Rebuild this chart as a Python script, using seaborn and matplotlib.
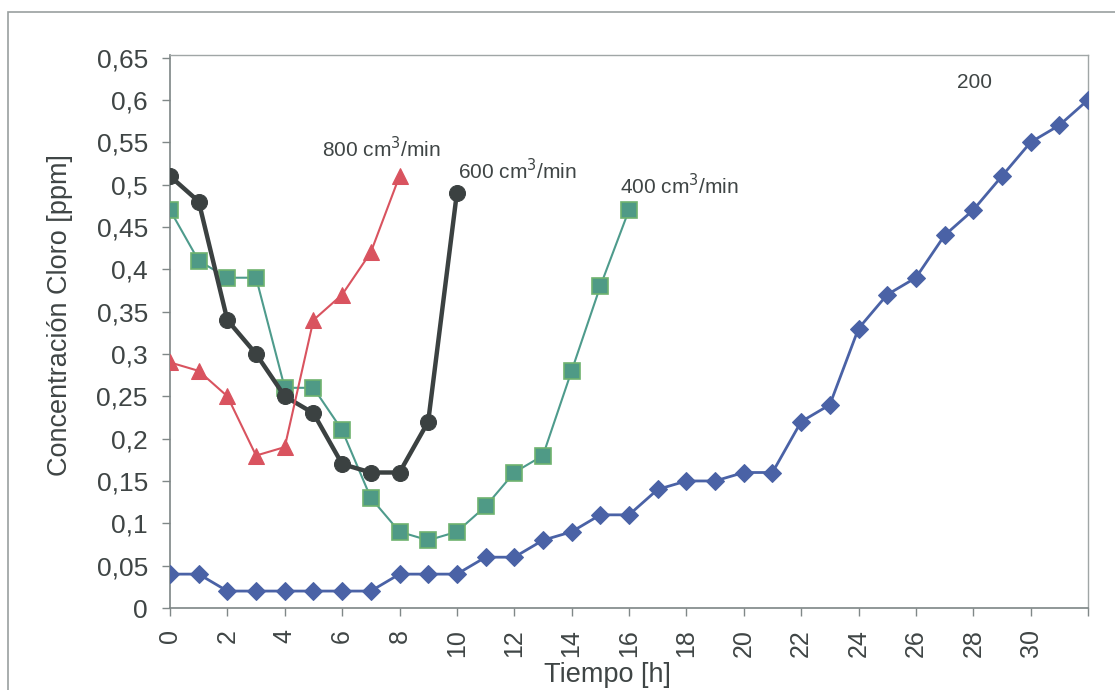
import matplotlib
matplotlib.use("Agg")
import matplotlib.pyplot as plt
import seaborn as sns
import pandas as pd
from matplotlib.patches import Rectangle

# ---- data ----
t200 = list(range(0, 33))
c200 = [0.04, 0.04, 0.02, 0.02, 0.02, 0.02, 0.02, 0.02, 0.04, 0.04, 0.04,
        0.06, 0.06, 0.08, 0.09, 0.11, 0.11, 0.14, 0.15, 0.15, 0.16, 0.16,
        0.22, 0.24, 0.33, 0.37, 0.39, 0.44, 0.47, 0.51, 0.55, 0.57, 0.60]
t400 = list(range(0, 17))
c400 = [0.47, 0.41, 0.39, 0.39, 0.26, 0.26, 0.21, 0.13, 0.09, 0.08, 0.09,
        0.12, 0.16, 0.18, 0.28, 0.38, 0.47]
t600 = list(range(0, 11))
c600 = [0.51, 0.48, 0.34, 0.30, 0.25, 0.23, 0.17, 0.16, 0.16, 0.22, 0.49]
t800 = list(range(0, 9))
c800 = [0.29, 0.28, 0.25, 0.18, 0.19, 0.34, 0.37, 0.42, 0.51]

yticks = [0, 0.05, 0.1, 0.15, 0.2, 0.25, 0.3, 0.35, 0.4, 0.45, 0.5, 0.55, 0.6, 0.65]
ytick_labels = ["0", "0,05", "0,1", "0,15", "0,2", "0,25", "0,3", "0,35", "0,4",
                "0,45", "0,5", "0,55", "0,6", "0,65"]
xticks = list(range(0, 33, 2))
xtick_labels = [str(v) for v in range(0, 31, 2)] + [""]

labels = ["800 cm$^3$/min", "600 cm$^3$/min", "400 cm$^3$/min", "200"]
xlabel = "Tiempo [h]"
ylabel = "Concentración Cloro [ppm]"

sns.set_theme(style="white")
plt.rcParams['font.family'] = ['Liberation Sans', 'DejaVu Sans']

txt = "#3f4545"
fig = plt.figure(figsize=(11.15, 6.9), dpi=100)
ax = fig.add_axes([170/1115, 1-608/690, (1088-170)/1115, (608-55)/690])

sns.lineplot(x=t200, y=c200, ax=ax, color="#4a62a6", lw=2.0, marker="D",
             markersize=9, markeredgecolor="#4a62a6", zorder=3)
sns.lineplot(x=t400, y=c400, ax=ax, color="#4e9b8c", lw=1.5, marker="s",
             markersize=11, markerfacecolor="#4f9a86", markeredgecolor="#6fb36f",
             markeredgewidth=1.2, zorder=4)
sns.lineplot(x=t600, y=c600, ax=ax, color="#3b4141", lw=3.2, marker="o",
             markersize=11.5, markeredgecolor="#3b4141", zorder=5)
sns.lineplot(x=t800, y=c800, ax=ax, color="#d9535f", lw=1.5, marker="^",
             markersize=11.5, markeredgecolor="#d9535f", zorder=6)

ax.set_xlim(0, 32)
ax.set_ylim(0, 0.653)
ax.set_yticks(yticks)
ax.set_yticklabels(ytick_labels)
ax.set_xticks(xticks)
ax.set_xticklabels(xtick_labels, rotation=90)
ax.tick_params(axis="both", direction="out", length=6, width=1, color="#808888",
               labelcolor=txt, left=True, bottom=True)
ax.tick_params(axis="y", labelsize=19, pad=10)
ax.tick_params(axis="x", labelsize=18, pad=9)
ax.set_xlabel(xlabel, fontsize=19.5, color=txt)
ax.xaxis.set_label_coords(0.477, -0.098)
ax.set_ylabel(ylabel, fontsize=19.5, color=txt)
ax.yaxis.set_label_coords(-0.106, 0.53)
for s in ["left", "bottom"]:
    ax.spines[s].set_color("#7d8585")
    ax.spines[s].set_linewidth(1.2)
for s in ["top", "right"]:
    ax.spines[s].set_color("#a0a6a6")
    ax.spines[s].set_linewidth(1.0)

ax.text(5.3, 0.5425, labels[0], fontsize=15, color=txt, va="center", ha="left")
ax.text(10.03, 0.5165, labels[1], fontsize=15, color=txt, va="center", ha="left")
ax.text(15.68, 0.499, labels[2], fontsize=15, color=txt, va="center", ha="left")
ax.text(27.45, 0.620, labels[3], fontsize=15, color=txt, va="center", ha="left")

fig.patches.append(Rectangle((8/1115, -0.1), 1.2, 1 - 12/690 + 0.1,
                             transform=fig.transFigure, fill=False,
                             edgecolor="#9aa0a0", linewidth=1.2))

fig.savefig("out.png", dpi=100)
